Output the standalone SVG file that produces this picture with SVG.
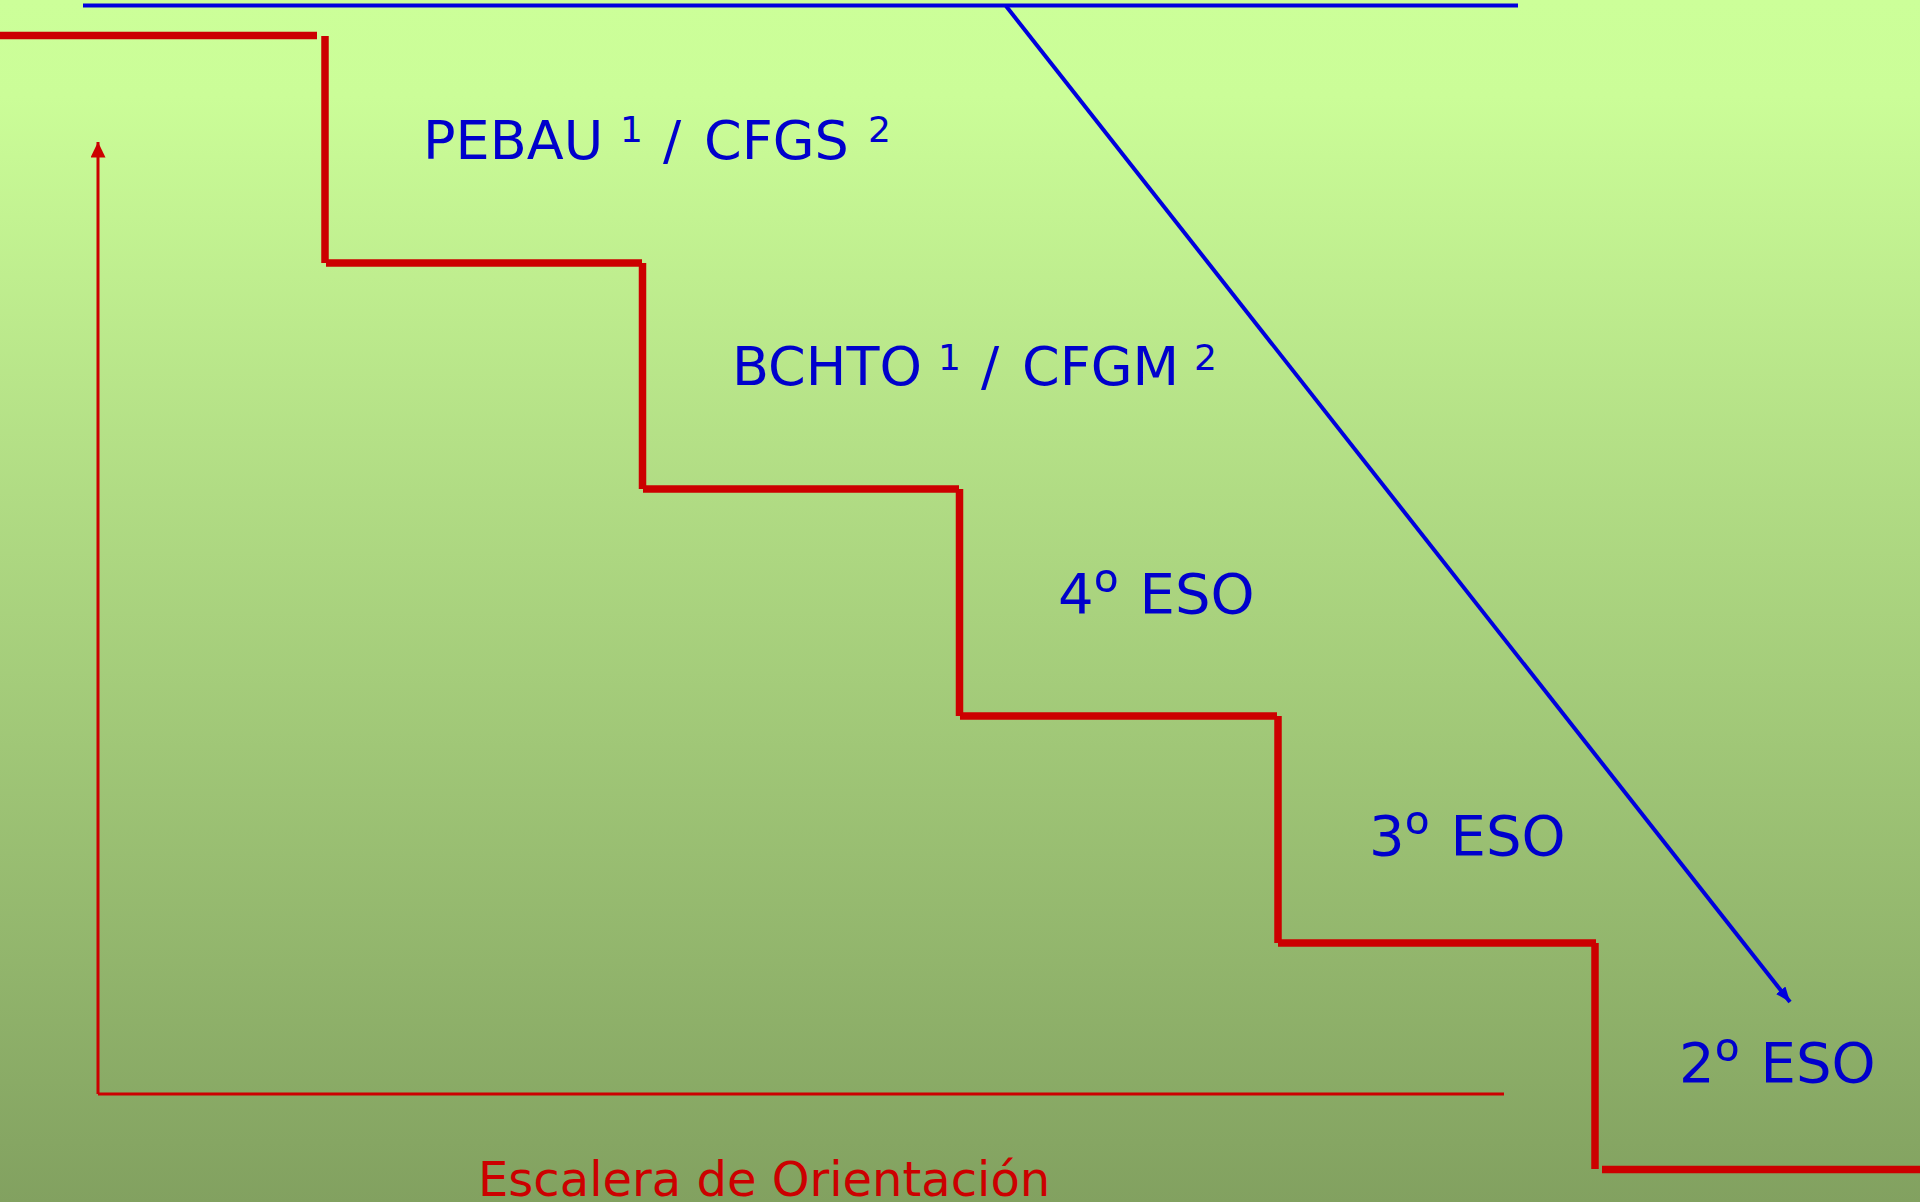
<svg xmlns="http://www.w3.org/2000/svg" width="1920" height="1202" viewBox="0 0 1920 1202">
  <defs>
    <linearGradient id="bg" x1="0" y1="0" x2="0" y2="1">
      <stop offset="0" stop-color="#CCFF99"/>
      <stop offset="0.08" stop-color="#CBFD98"/>
      <stop offset="1" stop-color="#82A160"/>
    </linearGradient>
    <marker id="arrRed" markerUnits="userSpaceOnUse" markerWidth="16" markerHeight="16" refX="15.5" refY="7.5" orient="auto" viewBox="0 0 16 16">
      <path d="M0,0 L15.5,7.5 L0,15 Z" fill="#CC0000"/>
    </marker>
    <marker id="arrBlue" markerUnits="userSpaceOnUse" markerWidth="16" markerHeight="14" refX="15" refY="6" orient="auto" viewBox="0 0 16 14">
      <path d="M0,0 L15,6 L0,12 Z" fill="#0000DD"/>
    </marker>
  </defs>
  <style>
    .stair { stroke: #CC0000; stroke-width: 7.5; fill: none; }
    .thin { stroke: #CC0000; stroke-width: 3; fill: none; }
    .blue { stroke: #0000DD; stroke-width: 4; fill: none; }
    .lbl { font-family: "DejaVu Sans", Verdana, sans-serif; fill: #0000CC; }
    .big { font-size: 54px; }
    .eso { font-size: 56px; }
    .sup { font-size: 36px; }
    .ord { font-family: "Noto Sans", "Open Sans", sans-serif; font-size: 65px; }
    .title { font-family: "DejaVu Sans", Verdana, sans-serif; font-size: 48px; fill: #CC0000; }
  </style>

  <rect x="0" y="0" width="1920" height="1202" fill="url(#bg)"/>

  <g id="stairs">
    <line class="stair" x1="0" y1="35.5" x2="317" y2="35.5"/>
    <line class="stair" x1="325" y1="36" x2="325" y2="263"/>
    <line class="stair" x1="326" y1="263" x2="642" y2="263"/>
    <line class="stair" x1="642.5" y1="263" x2="642.5" y2="489"/>
    <line class="stair" x1="643" y1="489" x2="959" y2="489"/>
    <line class="stair" x1="959.5" y1="489" x2="959.5" y2="716"/>
    <line class="stair" x1="960" y1="716" x2="1277" y2="716"/>
    <line class="stair" x1="1278" y1="716" x2="1278" y2="943"/>
    <line class="stair" x1="1278" y1="943" x2="1596" y2="943"/>
    <line class="stair" x1="1595" y1="943" x2="1595" y2="1169"/>
    <line class="stair" x1="1602" y1="1169.5" x2="1920" y2="1169.5"/>
  </g>

  <g id="connectors">
    <line class="blue" x1="83" y1="5.5" x2="1518" y2="5.5"/>
    <line class="blue" x1="1006" y1="6" x2="1790" y2="1002" marker-end="url(#arrBlue)"/>
    <line class="thin" x1="98" y1="1094" x2="1504" y2="1094"/>
    <line class="thin" x1="98" y1="1094" x2="98" y2="142" marker-end="url(#arrRed)"/>
  </g>

  <g id="node-pebau">
    <text class="lbl big" x="423" y="159">PEBAU <tspan class="sup" x="620" y="142">1</tspan><tspan x="663" y="159">/ </tspan><tspan x="704" y="159">CFGS </tspan><tspan class="sup" x="868" y="142">2</tspan></text>
  </g>
  <g id="node-bchto">
    <text class="lbl big" x="732" y="385">BCHTO <tspan class="sup" x="938" y="370">1</tspan><tspan x="981" y="385">/ </tspan><tspan x="1022" y="385">CFGM </tspan><tspan class="sup" x="1194" y="370">2</tspan></text>
  </g>
  <g id="node-4eso">
    <text class="lbl eso" x="1058" y="613">4<tspan class="ord" x="1094" y="617">º </tspan><tspan x="1139.5" y="613">ESO</tspan></text>
  </g>
  <g id="node-3eso">
    <text class="lbl eso" x="1369" y="855">3<tspan class="ord" x="1405" y="859">º </tspan><tspan x="1450.5" y="855">ESO</tspan></text>
  </g>
  <g id="node-2eso">
    <text class="lbl eso" x="1679" y="1082">2<tspan class="ord" x="1715" y="1086">º </tspan><tspan x="1760.5" y="1082">ESO</tspan></text>
  </g>
  <g id="node-title">
    <text class="title" x="478" y="1196">Escalera de Orientación</text>
  </g>
</svg>
